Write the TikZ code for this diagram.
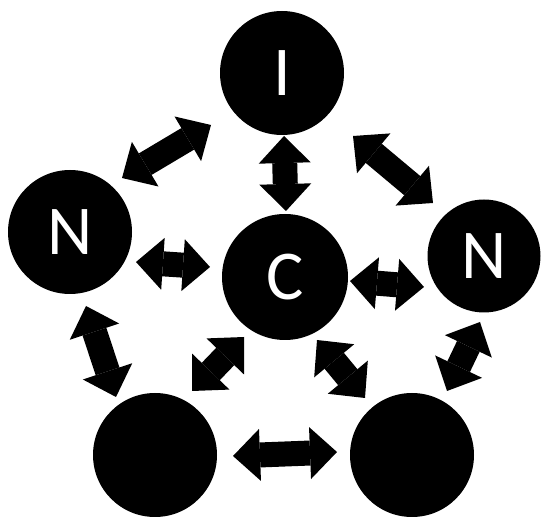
\documentclass[tikz,border=0pt]{standalone}
\usepackage{fontspec}
\setmainfont{Carlito}
\usetikzlibrary{arrows.meta}
\tikzset{
  ball/.style={circle,fill=black,inner sep=0pt,text=white,font=\fontsize{70}{70}\selectfont},
  tipend/.tip={Triangle[width=52pt,length=27pt,line width=0pt]},
  dbl/.style={line width=25pt,draw=black,{tipend}-{tipend}}
}
\begin{document}
\begin{tikzpicture}[x=1pt,y=1pt]
\useasboundingbox (0,0) rectangle (542,517);
\node[ball,minimum size=124pt] (I)  at (282,444) {I};
\node[ball,minimum size=124pt] (NL) at (70,285)  {N};
\node[ball,minimum size=126pt] (C)  at (285,240) {C};
\node[ball,minimum size=113pt] (NR) at (484,261) {N};
\node[ball,minimum size=124pt] (BL) at (155,62)  {};
\node[ball,minimum size=124pt] (BR) at (412,62)  {};
\draw[dbl] ([shift={(-71,-52)}]I.center) -- ([shift={(52,54)}]NL.center);
\draw[dbl] ([shift={(2,-63)}]I.center) -- ([shift={(1,66)}]C.center);
\draw[dbl] ([shift={(71,-63)}]I.center) -- ([shift={(-51,53)}]NR.center);
\draw[dbl] ([shift={(66,-30)}]NL.center) -- ([shift={(-75,10)}]C.center);
\draw[dbl] ([shift={(65,-4)}]C.center) -- ([shift={(-60,-31)}]NR.center);
\draw[dbl] ([shift={(16,-74)}]NL.center) -- ([shift={(-39,58)}]BL.center);
\draw[dbl] ([shift={(-41,-60)}]C.center) -- ([shift={(37,64)}]BL.center);
\draw[dbl] ([shift={(32,-63)}]C.center) -- ([shift={(-47,57)}]BR.center);
\draw[dbl] ([shift={(-4,-66)}]NR.center) -- ([shift={(35,64)}]BR.center);
\draw[dbl] ([shift={(78,-1)}]BL.center) -- ([shift={(-75,3)}]BR.center);
\end{tikzpicture}
\end{document}
